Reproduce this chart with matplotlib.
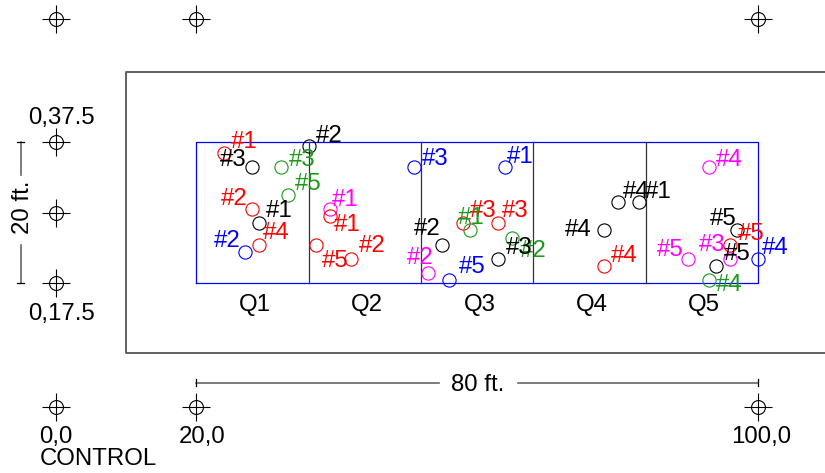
import matplotlib
matplotlib.use("Agg")
import matplotlib.pyplot as plt

plt.rcParams['font.family'] = ['Liberation Sans', 'DejaVu Sans']

# sample points: colour group, tag number, x (ft), y (ft)
pt_color = ['red', 'black', 'green', 'green', 'red', 'black', 'red', 'blue',
            'black', 'magenta', 'red', 'red', 'red',
            'blue', 'blue', 'red', 'green', 'red', 'green', 'black', 'black', 'magenta', 'blue',
            'black', 'black', 'black', 'red',
            'magenta', 'black', 'red', 'magenta', 'black', 'magenta', 'green', 'blue']
pt_num = [1, 3, 3, 5, 2, 1, 4, 2,
          2, 1, 1, 5, 2,
          3, 1, 3, 1, 3, 2, 2, 3, 2, 5,
          4, 1, 4, 4,
          4, 5, 5, 3, 5, 5, 4, 4]
pt_x = [24, 28, 32, 33, 28, 29, 29, 27,
        36, 39, 39, 37, 42,
        51, 64, 58, 59, 63, 65, 55, 63, 53, 56,
        80, 83, 78, 78,
        93, 97, 96, 96, 94, 90, 93, 100]
pt_y = [36, 34, 34, 30, 28, 26, 23, 22,
        37, 28, 27, 23, 21,
        34, 34, 26, 25, 26, 24, 23, 21, 19, 18,
        29, 29, 25, 20,
        34, 25, 23, 21, 20, 21, 18, 21]

# where each tag label sits relative to its circle (pixels, y down)
lab_dx = [20, -19, 22, 21, -18, 20, 17, -18,
          21, 16, 18, 20, 21,
          21, 15, 20, 1, 17, 21, -15, 21, -8, 23,
          19, 19, -25, 21,
          20, -14, 21, -18, 21, -18, 20, 17]
lab_dy = [-13, -10, -10, -14, -13, -15, -14, -13,
          -12, -12, 6, 14, -15,
          -11, -13, -15, -15, -15, 11, -18, -13, -17, -15,
          -13, -13, -3, -12,
          -10, -14, -13, -16, -14, -11, 3, -13]

quads = ['Q1', 'Q2', 'Q3', 'Q4', 'Q5']
quad_edges = [20, 36, 52, 68, 84, 100]

# survey control marks
ctrl_x = [0, 20, 100, 0, 0, 0, 0, 20, 100]
ctrl_y = [55, 55, 55, 37.5, 27.5, 17.5, 0, 0, 0]

colmap = {'red': '#FF0000', 'black': '#000000', 'green': '#1A9A1A',
          'blue': '#0000FF', 'magenta': '#FF00FF'}
fs = 17.3

fig = plt.figure(figsize=(8.25, 4.73), dpi=100)
ax = fig.add_axes([0, 0, 1, 1])
ax.set_xlim(-7.93, 109.5)
ax.set_ylim(-9.40, 57.69)
ax.axis('off')

# outer frame (runs off the right edge)
ax.plot([120, 10, 10, 120], [47.5, 47.5, 7.6, 7.6], color='#555555', lw=1.3)

# plot rectangle and quarter dividers
x0, x1 = quad_edges[0], quad_edges[-1]
ax.plot([x0, x1, x1, x0, x0], [17.5, 17.5, 37.5, 37.5, 17.5], color='#0000FF', lw=0.9)
for xe in quad_edges[1:-1]:
    ax.plot([xe, xe], [17.5, 37.5], color='#333333', lw=0.9)
for i, q in enumerate(quads):
    ax.text((quad_edges[i] + quad_edges[i + 1]) / 2 + 0.3, 14.75, q, fontsize=fs,
            ha='center', va='center_baseline')

# control marks
ax.plot(ctrl_x, ctrl_y, 'o', ms=10, mfc='none', mec='black', mew=0.8)
ax.plot(ctrl_x, ctrl_y, '+', ms=20, mec='black', mew=0.8)

ax.text(0.85, 41.26, '0,37.5', fontsize=fs, ha='center', va='center_baseline')
ax.text(0.85, 13.57, '0,17.5', fontsize=fs, ha='center', va='center_baseline')
ax.text(0, -3.9, '0,0', fontsize=fs, ha='center', va='center_baseline')
ax.text(20.8, -3.9, '20,0', fontsize=fs, ha='center', va='center_baseline')
ax.text(100.44, -3.9, '100,0', fontsize=fs, ha='center', va='center_baseline')
ax.text(6.1, -7.1, 'CONTROL', fontsize=fs, ha='center', va='center_baseline')

# scale bars
bar_c = '#666666'
ax.plot([20, 54.5], [3.4, 3.4], color=bar_c, lw=1.2)
ax.plot([65.8, 100], [3.4, 3.4], color=bar_c, lw=1.2)
ax.plot([20, 20], [2.9, 3.9], color='black', lw=0.9)
ax.plot([100, 100], [2.9, 3.9], color='black', lw=0.9)
ax.text(60.1, 3.4, '80 ft.', fontsize=fs, ha='center', va='center_baseline')

ax.plot([-5, -5], [37.5, 32.8], color=bar_c, lw=1.2)
ax.plot([-5, -5], [22.9, 17.5], color=bar_c, lw=1.2)
ax.plot([-5.5, -4.5], [37.5, 37.5], color='black', lw=0.9)
ax.plot([-5.5, -4.5], [17.5, 17.5], color='black', lw=0.9)
ax.text(-4.7, 28.3, '20 ft.', fontsize=fs, ha='center', va='center', rotation=90)

# sample points and tags
for c, n, x, y, dx, dy in zip(pt_color, pt_num, pt_x, pt_y, lab_dx, lab_dy):
    col = colmap[c]
    ax.plot(x, y, 'o', ms=9.5, mfc='none', mec=col, mew=0.8)
    ax.annotate('#%d' % n, (x, y), xytext=(dx, -dy), textcoords='offset pixels',
                fontsize=fs, color=col, ha='center', va='center_baseline')

fig.savefig('out.png', dpi=100)
